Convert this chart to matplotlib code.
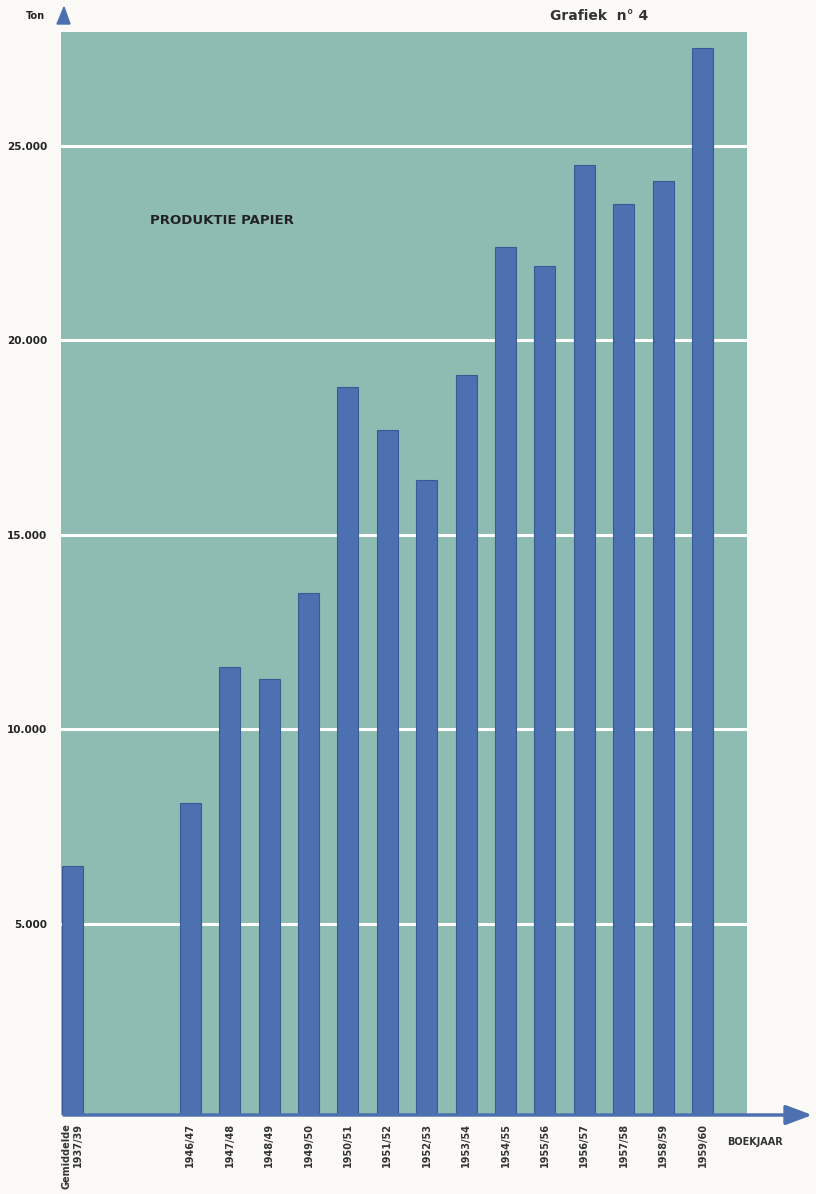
import numpy as np
import matplotlib
matplotlib.use("Agg")
import matplotlib.pyplot as plt
from matplotlib.patches import FancyArrowPatch, Polygon

labels = ["Gemiddelde\n1937/39", "1946/47", "1947/48", "1948/49", "1949/50",
          "1950/51", "1951/52", "1952/53", "1953/54", "1954/55", "1955/56",
          "1956/57", "1957/58", "1958/59", "1959/60"]
ton = [6500, 8100, 11600, 11300, 13500, 18800, 17700, 16400, 19100,
       22400, 21900, 24500, 23500, 24100, 27500]
pos = [0, 3, 4, 5, 6, 7, 8, 9, 10, 11, 12, 13, 14, 15, 16]
yticks = [5000, 10000, 15000, 20000, 25000]
ytick_labels = ["5.000", "10.000", "15.000", "20.000", "25.000"]

bg = "#8ebcb2"
bar_col = "#4d70b0"
paper = "#fbfaf6"

fig = plt.figure(figsize=(8.16, 11.94), dpi=100, facecolor=paper)
ax = fig.add_axes([61/816, 1 - 1115/1194, (747 - 61)/816, (1115 - 32)/1194])
ax.set_facecolor(bg)

unit = (702.5 - 72) / 16  # pixels per slot
ax.set_xlim(-(72 - 61) / unit, 16 + (747 - 702.5) / unit)
ax.set_ylim(92, 27918)

for y in yticks:
    ax.axhline(y, color="white", lw=2.2, zorder=1)

ax.bar(pos, ton, width=21 / unit, color=bar_col, edgecolor="#3a5a96",
       linewidth=0.8, zorder=2)

for s in ax.spines.values():
    s.set_visible(False)
ax.tick_params(length=0)

ax.set_yticks(yticks)
ax.set_yticklabels(ytick_labels, fontsize=7.5, fontweight="bold", color="#222222")
ax.tick_params(axis="y", pad=10)

ax.set_xticks(pos)
ax.set_xticklabels(labels, rotation=90, fontsize=7, fontweight="bold",
                   color="#333333", va="top", ha="center", linespacing=1.15,
                   multialignment="right")
ax.tick_params(axis="x", pad=6)

# x axis arrow
fig.add_artist(FancyArrowPatch(
    (61/816, 1 - 1115/1194), (815/816, 1 - 1115/1194),
    transform=fig.transFigure, arrowstyle="-|>,head_length=8,head_width=3",
    color=bar_col, lw=2.5, mutation_scale=2))
# y axis arrow head
fig.add_artist(Polygon(
    [(57/816, 1 - 24/1194), (64/816, 1 - 7/1194), (70/816, 1 - 24/1194)],
    closed=True, transform=fig.transFigure, color=bar_col))

fig.text(26/816, 1 - 16/1194, "Ton", fontsize=7, fontweight="bold",
         color="#222222", va="center", ha="left")
fig.text(550/816, 1 - 16/1194, "Grafiek  n° 4", fontsize=10, fontweight="bold",
         color="#333333", va="center", ha="left")
fig.text(727/816, 1 - 1142/1194, "BOEKJAAR", fontsize=7, fontweight="bold",
         color="#333333", va="center", ha="left")
fig.text(150/816, 1 - 221/1194, "PRODUKTIE PAPIER", fontsize=9.5,
         fontweight="bold", color="#222222", va="center", ha="left")

fig.savefig("out.png", dpi=100, facecolor=paper)
